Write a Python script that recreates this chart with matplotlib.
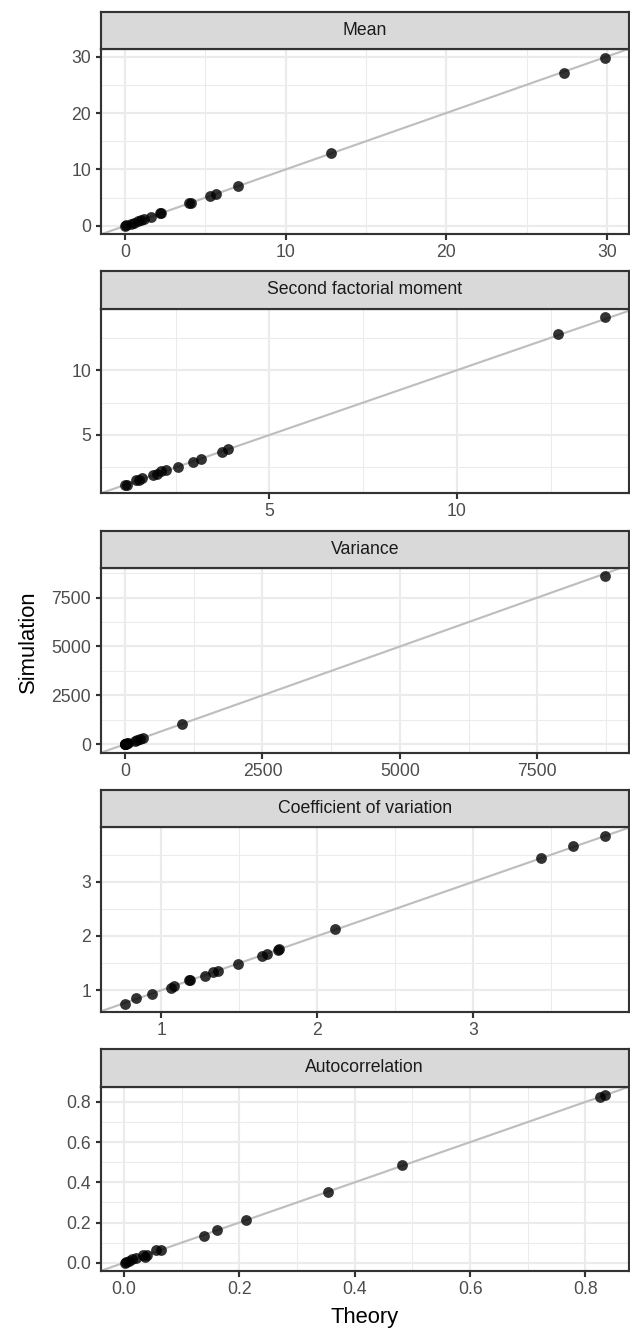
import matplotlib
matplotlib.use("Agg")
import matplotlib.pyplot as plt
from matplotlib.ticker import FixedLocator, FormatStrFormatter

plt.rcParams['font.family'] = ['Liberation Sans', 'DejaVu Sans']

# values: theory (x) vs simulation (y)
mean_theory = [0.0, 0.05, 0.37, 0.58, 0.78, 0.99, 1.2, 1.6, 2.19, 2.25, 4.0, 4.08, 5.27, 5.64, 7.05, 12.8, 27.3, 29.85]
mean_sim = [0.05, 0.1, 0.4, 0.6, 0.8, 1.0, 1.22, 1.65, 2.2, 2.3, 4.05, 4.12, 5.3, 5.65, 7.15, 12.86, 27.1, 29.8]

sfm_theory = [1.15, 1.2, 1.44, 1.53, 1.6, 1.9, 2.0, 2.1, 2.23, 2.55, 2.97, 3.18, 3.73, 3.9, 12.7, 13.93]
sfm_sim = [1.15, 1.18, 1.49, 1.55, 1.7, 1.9, 2.0, 2.2, 2.3, 2.56, 2.95, 3.15, 3.7, 3.9, 12.77, 14.1]

var_theory = [0.5, 2, 5, 10, 25, 40, 60, 180, 220, 280, 320, 1040, 8720]
var_sim = [0.5, 2, 6, 10, 24, 42, 60, 190, 230, 290, 330, 1050, 8590]

cv_theory = [0.767, 0.84, 0.94, 1.063, 1.08, 1.18, 1.185, 1.28, 1.33, 1.36, 1.49, 1.644, 1.675, 1.75, 1.755, 2.116, 3.43, 3.64, 3.84]
cv_sim = [0.756, 0.85, 0.93, 1.05, 1.08, 1.18, 1.185, 1.27, 1.34, 1.36, 1.49, 1.64, 1.66, 1.75, 1.755, 2.12, 3.44, 3.65, 3.85]

ac_theory = [0.002, 0.004, 0.009, 0.015, 0.021, 0.033, 0.037, 0.041, 0.056, 0.065, 0.139, 0.161, 0.212, 0.353, 0.482, 0.825, 0.833]
ac_sim = [0.0, 0.003, 0.01, 0.018, 0.023, 0.04, 0.031, 0.04, 0.064, 0.064, 0.135, 0.163, 0.215, 0.351, 0.487, 0.827, 0.835]

titles = ["Mean", "Second factorial moment", "Variance", "Coefficient of variation", "Autocorrelation"]
xs = [mean_theory, sfm_theory, var_theory, cv_theory, ac_theory]
ys = [mean_sim, sfm_sim, var_sim, cv_sim, ac_sim]
major_x = [[0, 10, 20, 30], [5, 10], [0, 2500, 5000, 7500], [1, 2, 3], [0.0, 0.2, 0.4, 0.6, 0.8]]
major_y = [[0, 10, 20, 30], [5, 10], [0, 2500, 5000, 7500], [1, 2, 3], [0.0, 0.2, 0.4, 0.6, 0.8]]
minor_ticks = [[-5, 5, 15, 25, 35], [2.5, 7.5, 12.5], [-1250, 1250, 3750, 6250, 8750], [0.5, 1.5, 2.5, 3.5], [0.1, 0.3, 0.5, 0.7, 0.9]]


def expand(v):
    lo, hi = min(v), max(v)
    r = hi - lo
    return lo - 0.05 * r, hi + 0.05 * r


W, H = 630, 1329
fig = plt.figure(figsize=(W / 144, H / 144), dpi=144)

left, right = 101, 628.5
for i in range(5):
    off = 259.3 * i
    st, pt, pb = 12 + off, 49.3 + off, 234 + off
    ax = fig.add_axes([left / W, 1 - pb / H, (right - left) / W, (pb - pt) / H])
    sax = fig.add_axes([left / W, 1 - pt / H, (right - left) / W, (pt - st) / H])

    ax.axline((0, 0), slope=1, color='#BEBEBE', lw=1.07, zorder=2)
    ax.scatter(xs[i], ys[i], s=5.4 ** 2, color='black', alpha=0.8, linewidths=0, zorder=3)
    ax.set_xlim(expand(xs[i]))
    ax.set_ylim(expand(ys[i]))

    ax.xaxis.set_major_locator(FixedLocator(major_x[i]))
    ax.yaxis.set_major_locator(FixedLocator(major_y[i]))
    ax.xaxis.set_minor_locator(FixedLocator(minor_ticks[i]))
    ax.yaxis.set_minor_locator(FixedLocator(minor_ticks[i]))
    if i == 4:
        ax.xaxis.set_major_formatter(FormatStrFormatter('%.1f'))
        ax.yaxis.set_major_formatter(FormatStrFormatter('%.1f'))

    ax.set_axisbelow(True)
    ax.grid(which='major', color='#EBEBEB', lw=1.07)
    ax.grid(which='minor', color='#EBEBEB', lw=0.53)
    ax.tick_params(which='major', length=2.75, width=1.07, color='#333333',
                   labelcolor='#4D4D4D', labelsize=8.8, pad=2.2)
    ax.tick_params(which='minor', length=0)
    for s in ax.spines.values():
        s.set_color('#333333')
        s.set_linewidth(1.07)

    sax.set_facecolor('#D9D9D9')
    sax.set_xticks([])
    sax.set_yticks([])
    for s in sax.spines.values():
        s.set_color('#333333')
        s.set_linewidth(1.07)
    sax.text(0.5, 0.5, titles[i], transform=sax.transAxes, ha='center', va='center',
             fontsize=8.8, color='#1A1A1A')

fig.text(28 / W, 1 - 642 / H, "Simulation", rotation=90, ha='center', va='center', fontsize=11)
fig.text((left + right) / 2 / W, 1 - 1317 / H, "Theory", ha='center', va='center', fontsize=11)

fig.savefig('out.png', dpi=144)
